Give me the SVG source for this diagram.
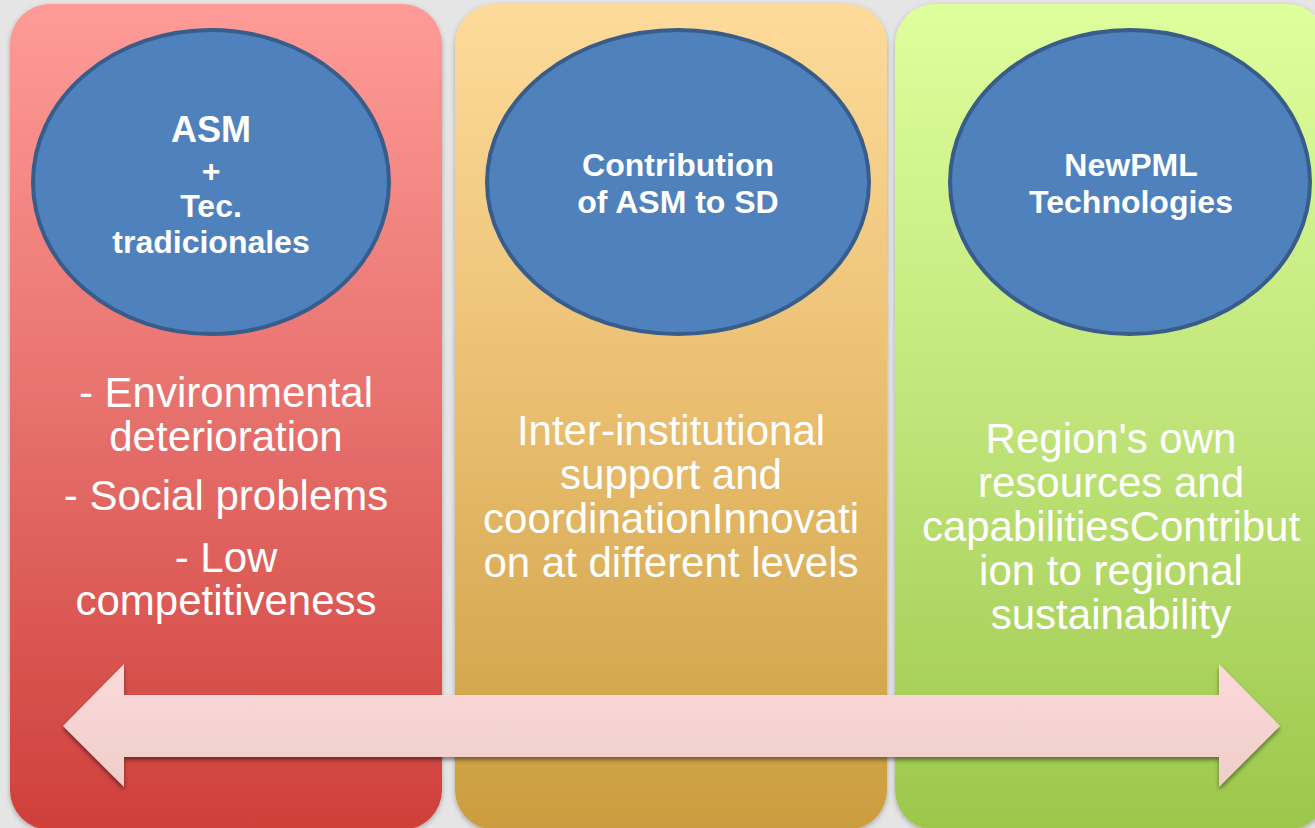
<svg xmlns="http://www.w3.org/2000/svg" width="1315" height="828" viewBox="0 0 1315 828">
  <defs>
    <linearGradient id="gRed" x1="0" y1="0" x2="0" y2="1">
      <stop offset="0" stop-color="#ff9b97"/>
      <stop offset="0.5" stop-color="#e6706c"/>
      <stop offset="1" stop-color="#cf3f3a"/>
    </linearGradient>
    <linearGradient id="gOrange" x1="0" y1="0" x2="0" y2="1">
      <stop offset="0" stop-color="#fedb9b"/>
      <stop offset="0.5" stop-color="#e8bd6e"/>
      <stop offset="1" stop-color="#cb9d3f"/>
    </linearGradient>
    <linearGradient id="gGreen" x1="0" y1="0" x2="0" y2="1">
      <stop offset="0" stop-color="#deff9c"/>
      <stop offset="0.5" stop-color="#c0e479"/>
      <stop offset="1" stop-color="#9cc74b"/>
    </linearGradient>
    <linearGradient id="gArrow" x1="0" y1="0" x2="0" y2="1">
      <stop offset="0" stop-color="#fddada"/>
      <stop offset="1" stop-color="#eecdca"/>
    </linearGradient>
    <filter id="panelShadow" x="-10%" y="-10%" width="120%" height="120%">
      <feDropShadow dx="0" dy="2" stdDeviation="2.5" flood-color="#000" flood-opacity="0.28"/>
    </filter>
    <filter id="arrowShadow" x="-5%" y="-20%" width="110%" height="140%">
      <feDropShadow dx="0" dy="3" stdDeviation="2" flood-color="#000" flood-opacity="0.45"/>
    </filter>
    <style>
      .panel { filter: url(#panelShadow); }
      .oval { fill: #4f81bd; stroke: #385d8a; stroke-width: 4; }
      .head { font-family: "Liberation Sans", Arial, sans-serif; font-weight: bold; font-size: 32px; fill: #ffffff; text-anchor: middle; }
      .big { font-size: 36px; }
      .body { font-family: "Liberation Sans", Arial, sans-serif; font-size: 42px; fill: #ffffff; text-anchor: middle; }
    </style>
  </defs>

  <rect x="0" y="0" width="1315" height="828" fill="#e5e5e5"/>

  <g id="panel-asm">
    <rect class="panel" x="10" y="4" width="432" height="826" rx="40" ry="40" fill="url(#gRed)"/>
    <ellipse class="oval" cx="211" cy="182" rx="178" ry="152"/>
    <text class="head big" x="211" y="142">ASM</text>
    <text class="head" x="211" y="182">+</text>
    <text class="head" x="211" y="217">Tec.</text>
    <text class="head" x="211" y="253">tradicionales</text>
    <text class="body" x="226" y="407">- Environmental</text>
    <text class="body" x="226" y="451">deterioration</text>
    <text class="body" x="226" y="510">- Social problems</text>
    <text class="body" x="226" y="572">- Low</text>
    <text class="body" x="226" y="615">competitiveness</text>
  </g>

  <g id="panel-contribution">
    <rect class="panel" x="455" y="4" width="432" height="826" rx="40" ry="40" fill="url(#gOrange)"/>
    <ellipse class="oval" cx="678" cy="182" rx="191" ry="152"/>
    <text class="head" x="678" y="176">Contribution</text>
    <text class="head" x="678" y="213">of ASM to SD</text>
    <text class="body" x="671" y="445">Inter-institutional</text>
    <text class="body" x="671" y="489">support and</text>
    <text class="body" x="671" y="533">coordinationInnovati</text>
    <text class="body" x="671" y="577">on at different levels</text>
  </g>

  <g id="panel-newpml">
    <rect class="panel" x="895" y="4" width="432" height="826" rx="40" ry="40" fill="url(#gGreen)"/>
    <ellipse class="oval" cx="1130" cy="182" rx="180" ry="152"/>
    <text class="head" x="1131" y="176">NewPML</text>
    <text class="head" x="1131" y="213">Technologies</text>
    <text class="body" x="1111" y="453">Region's own</text>
    <text class="body" x="1111" y="497">resources and</text>
    <text class="body" x="1111" y="541">capabilitiesContribut</text>
    <text class="body" x="1111" y="585">ion to regional</text>
    <text class="body" x="1111" y="629">sustainability</text>
  </g>

  <g id="connectors">
    <path d="M63,726 L124,664 L124,695 L1219,695 L1219,664 L1280,726 L1219,787 L1219,757 L124,757 L124,787 Z" fill="url(#gArrow)" filter="url(#arrowShadow)"/>
  </g>
</svg>
